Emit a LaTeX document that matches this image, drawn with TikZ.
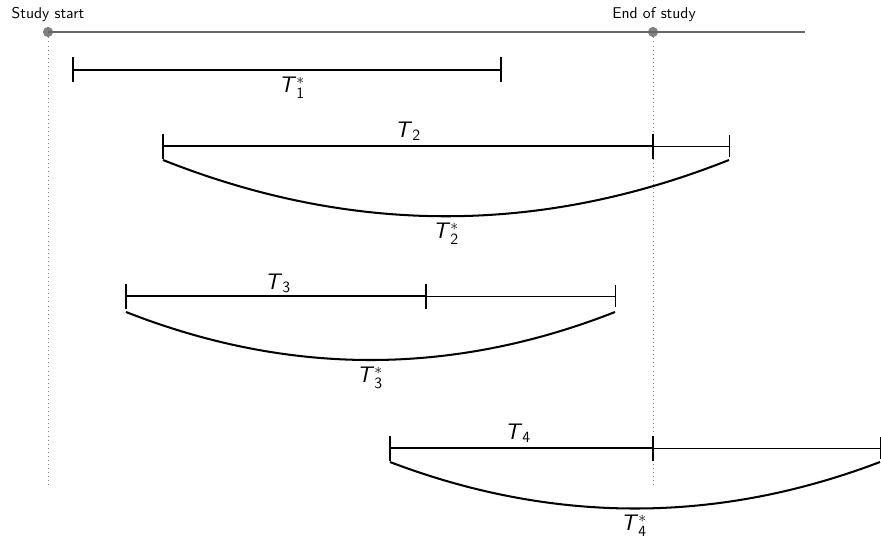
\documentclass[tikz,border=0pt]{standalone}
\usepackage{tikz}
\begin{document}
\begin{tikzpicture}[x=0.64pt,y=-0.64pt,
  every node/.style={font=\sffamily},
  thickseg/.style={line width=1.4pt},
  thinseg/.style={line width=0.6pt},
  arcline/.style={line width=1.3pt},
  guide/.style={dotted, gray, line width=0.6pt},
  timeline/.style={line width=0.9pt, gray!80!black},
  dot/.style={circle, fill=gray, inner sep=0pt, minimum size=6.5pt},
  lbl/.style={font=\sffamily\Large, inner sep=0pt},
  toplbl/.style={font=\sffamily\normalsize, inner sep=0pt}]
\useasboundingbox (0,0) rectangle (881,539);
% timeline
\coordinate (tlEnd) at (805,32);
\node[dot] (s) at (48,32) {};
\node[dot] (e) at (653,32) {};
\draw[timeline] (s.center) -- (tlEnd);
\node[toplbl] (slab) at (48,15) {Study start};
\node[toplbl] (elab) at (654,15) {End of study};
\coordinate (sB) at (48,487);
\coordinate (eB) at (653,487);
\draw[guide] (s.south) -- (sB);
\draw[guide] (e.south) -- (eB);
% T1*
\coordinate (a1) at (73,70); \coordinate (b1) at (501,70);
\draw[thickseg] (a1) -- (b1);
\draw[thickseg] ([yshift=8]a1) -- ([yshift=-8]a1);
\draw[thickseg] ([yshift=8]b1) -- ([yshift=-8]b1);
\node[lbl] (l1) at (292,88) {\textit{T}$^{*}_{\mathsf{1}}$};
% T2
\coordinate (a2) at (163,146); \coordinate (m2) at (653,146); \coordinate (b2) at (729,146);
\draw[thickseg] (a2) -- (m2);
\draw[thinseg] (m2) -- (b2);
\draw[thickseg] ([yshift=8]a2) -- ([yshift=-8]a2);
\draw[thickseg] ([yshift=8]m2) -- ([yshift=-8]m2);
\draw[thinseg] ([yshift=7]b2) -- ([yshift=-7]b2);
\node[lbl] (t2) at (408,131) {\textit{T}$_{\mathsf{2}}$};
\coordinate (c2a) at (163,160); \coordinate (c2b) at (729,160);
\draw[arcline] (c2a) .. controls (352,235) and (540,235) .. (c2b);
\node[lbl] (l2) at (446,234) {\textit{T}$^{*}_{\mathsf{2}}$};
% T3
\coordinate (a3) at (126,296); \coordinate (m3) at (426,296); \coordinate (b3) at (615,296);
\draw[thickseg] (a3) -- (m3);
\draw[thinseg] (m3) -- (b3);
\draw[thickseg] ([yshift=8]a3) -- ([yshift=-8]a3);
\draw[thickseg] ([yshift=8]m3) -- ([yshift=-8]m3);
\draw[thinseg] ([yshift=7]b3) -- ([yshift=-7]b3);
\node[lbl] (t3) at (278,283) {\textit{T}$_{\mathsf{3}}$};
\coordinate (c3a) at (126,312); \coordinate (c3b) at (615,312);
\draw[arcline] (c3a) .. controls (289,376) and (452,376) .. (c3b);
\node[lbl] (l3) at (370,378) {\textit{T}$^{*}_{\mathsf{3}}$};
% T4
\coordinate (a4) at (390,448); \coordinate (m4) at (653,448); \coordinate (b4) at (880,448);
\draw[thickseg] (a4) -- (m4);
\draw[thinseg] (m4) -- (b4);
\draw[thickseg] ([yshift=8]a4) -- ([yshift=-8]a4);
\draw[thickseg] ([yshift=8]m4) -- ([yshift=-8]m4);
\draw[thinseg] ([yshift=7]b4) -- ([yshift=-7]b4);
\node[lbl] (t4) at (518,433) {\textit{T}$_{\mathsf{4}}$};
\coordinate (c4a) at (390,462); \coordinate (c4b) at (880,462);
\draw[arcline] (c4a) .. controls (553,524) and (717,524) .. (c4b);
\node[lbl] (l4) at (634,526) {\textit{T}$^{*}_{\mathsf{4}}$};
\end{tikzpicture}
\end{document}
